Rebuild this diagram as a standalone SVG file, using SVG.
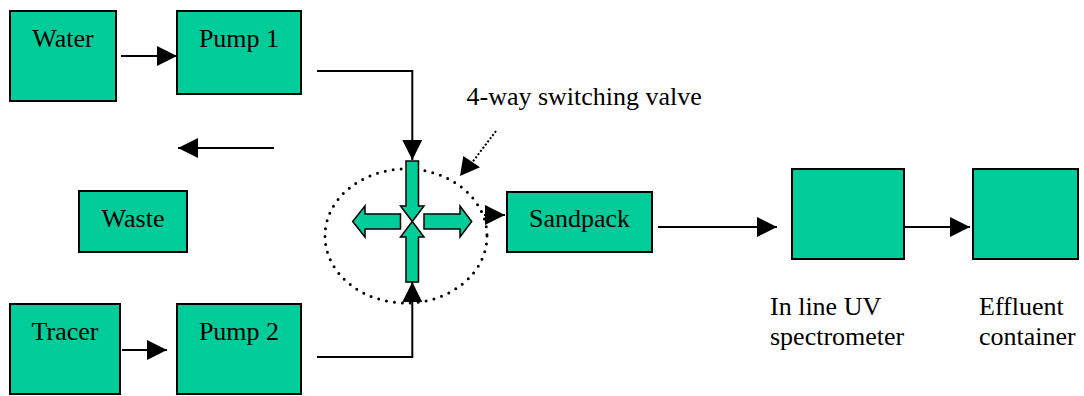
<svg xmlns="http://www.w3.org/2000/svg" width="1084" height="396" viewBox="0 0 1084 396">
<style>
.box{fill:#00CC99;stroke:#000;stroke-width:2}
text{font-family:'Liberation Serif',Times,'DejaVu Serif',serif;font-size:26px;fill:#000}
.c{text-anchor:middle}
.ln{fill:none;stroke:#000;stroke-width:2}
.arr{fill:#00CC99;stroke:#000;stroke-width:1.5;stroke-linejoin:miter}
</style>
<defs>
<marker id="ah" markerWidth="20" markerHeight="20" viewBox="0 0 20 20" refX="20" refY="10" orient="auto" markerUnits="userSpaceOnUse">
<path d="M0,0 L20,10 L0,20 Z" fill="#000"/>
</marker>
</defs>
<rect width="1084" height="396" fill="#fff"/>
<g id="water"><rect class="box" x="10" y="11" width="106" height="90"/><text class="c" x="63" y="47" font-family="Liberation Serif">Water</text></g>
<g id="pump1"><rect class="box" x="177" y="11" width="124" height="83"/><text class="c" x="239" y="47" font-family="Liberation Serif">Pump 1</text></g>
<g id="waste"><rect class="box" x="79" y="191" width="108" height="61"/><text class="c" x="133" y="227" font-family="Liberation Serif">Waste</text></g>
<g id="tracer"><rect class="box" x="10" y="304" width="110" height="90"/><text class="c" x="65" y="340" font-family="Liberation Serif">Tracer</text></g>
<g id="pump2"><rect class="box" x="177" y="304" width="124" height="90"/><text class="c" x="239" y="340" font-family="Liberation Serif">Pump 2</text></g>
<g id="sandpack"><rect class="box" x="507" y="192" width="145" height="60"/><text class="c" x="579.5" y="227" font-family="Liberation Serif">Sandpack</text></g>
<g id="uv"><rect class="box" x="792" y="169" width="112" height="90"/><text x="770" y="315" font-family="Liberation Serif">In line UV</text><text x="770" y="345" font-family="Liberation Serif">spectrometer</text></g>
<g id="effluent"><rect class="box" x="973" y="169" width="105" height="90"/><text x="979" y="315" font-family="Liberation Serif">Effluent</text><text x="979" y="345" font-family="Liberation Serif">container</text></g>
<g id="valve">
<ellipse cx="406" cy="236" rx="81" ry="67" fill="none" stroke="#000" stroke-width="3" stroke-dasharray="0 8" stroke-linecap="round"/>
<path class="arr" d="M406,161 L418.5,161 L418.5,206 L424,206 L412.3,221.5 L400.5,206 L406,206 Z"/>
<path class="arr" d="M406,282 L418.5,282 L418.5,237 L424,237 L412.3,221.5 L400.5,237 L406,237 Z"/>
<path class="arr" d="M400.5,214 L365,214 L365,206 L352.7,221.5 L365,237 L365,229 L400.5,229 Z"/>
<path class="arr" d="M424,214 L460,214 L460,206 L471.7,221.5 L460,237 L460,229 L424,229 Z"/>
<text x="466.5" y="105" font-family="Liberation Serif">4-way switching valve</text>
</g>
<g id="connectors">
<line class="ln" x1="121" y1="56" x2="177" y2="56" marker-end="url(#ah)"/>
<line class="ln" x1="122" y1="350" x2="167" y2="350" marker-end="url(#ah)"/>
<polyline class="ln" points="317,71 412.3,71 412.3,160" marker-end="url(#ah)"/>
<polyline class="ln" points="317,357 412.3,357 412.3,282" marker-end="url(#ah)"/>
<line class="ln" x1="274" y1="148" x2="178" y2="148" marker-end="url(#ah)"/>
<line class="ln" x1="484" y1="215" x2="505" y2="215" marker-end="url(#ah)"/>
<line class="ln" x1="658" y1="227" x2="777" y2="227" marker-end="url(#ah)"/>
<line class="ln" x1="904" y1="227" x2="970" y2="227" marker-end="url(#ah)"/>
<line x1="496" y1="131" x2="471" y2="164" stroke="#000" stroke-width="2" stroke-dasharray="2 2"/>
<path d="M460,176 L463.3,156 L480,167.3 Z" fill="#000"/>
</g>
</svg>
